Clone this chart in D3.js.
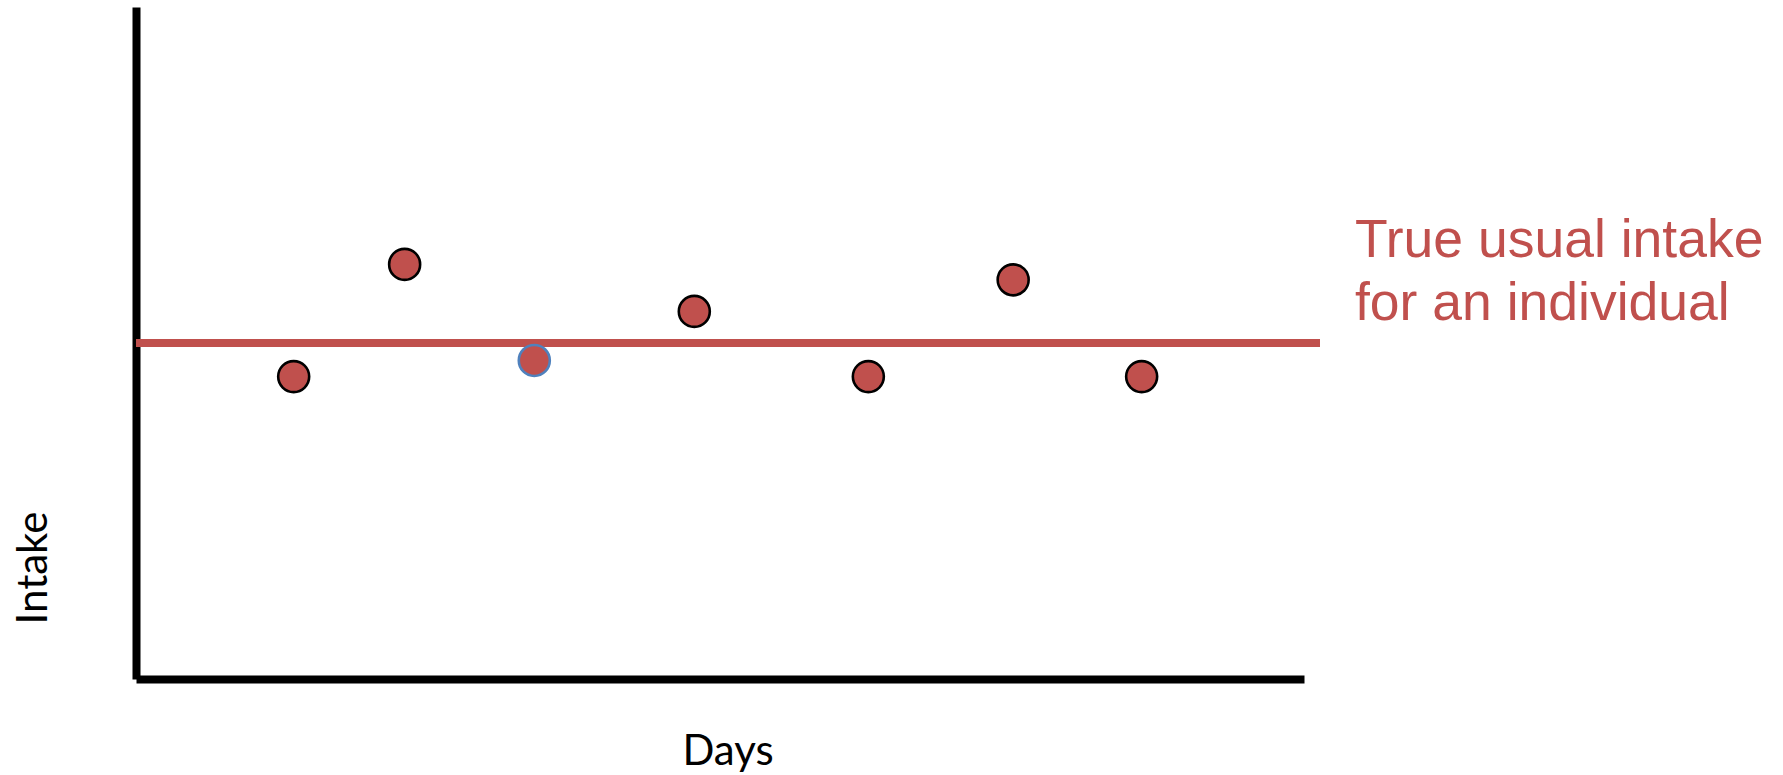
<!DOCTYPE html>
<html>
<head>
<meta charset="utf-8">
<script src="https://cdn.jsdelivr.net/npm/d3@7"></script>
<style>
  html, body { margin: 0; padding: 0; background: #ffffff; }
  svg { display: block; }
</style>
</head>
<body>
<svg id="chart" width="1783" height="775"></svg>
<script>
// ---- data ----
const days = [1.35, 2.30, 3.41, 4.78, 6.27, 7.51, 8.61];
const intake = [45.0, 61.7, 47.4, 54.7, 45.0, 59.4, 45.0];
const outlineKinds = ["black", "black", "blue", "black", "black", "black", "black"];
const trueUsualIntake = 50;
const labelLines = ["True usual intake", "for an individual"];
const xTitle = "Days";
const yTitle = "Intake";

// ---- layout ----
const W = 1783, H = 775;
const svg = d3.select("#chart");
const x = d3.scaleLinear().domain([0, 10]).range([136, 1304]);
const y = d3.scaleLinear().domain([0, 100]).range([679, 7]);

const RED = "#C0504D";
const BLUE = "#4F81BD";

// axes (no ticks, thick domain lines)
const gx = svg.append("g").attr("transform", `translate(0,${y(0)})`)
  .call(d3.axisBottom(x).ticks(0).tickSizeOuter(0));
gx.select(".domain").attr("stroke", "#000").attr("stroke-width", 8);
gx.selectAll(".tick").remove();

const gy = svg.append("g").attr("transform", `translate(${x(0)},0)`)
  .call(d3.axisLeft(y).ticks(0).tickSizeOuter(0));
gy.select(".domain").attr("stroke", "#000").attr("stroke-width", 8);
gy.selectAll(".tick").remove();

// true usual intake line
svg.append("line")
  .attr("x1", x.range()[0])
  .attr("x2", x.range()[1] + 16)
  .attr("y1", y(trueUsualIntake))
  .attr("y2", y(trueUsualIntake))
  .attr("stroke", RED)
  .attr("stroke-width", 8);

// points
const pts = days.map((d, i) => ({ day: d, v: intake[i], kind: outlineKinds[i] }));
svg.append("g").selectAll("circle").data(pts).join("circle")
  .attr("cx", d => x(d.day))
  .attr("cy", d => y(d.v))
  .attr("r", 15.5)
  .attr("fill", RED)
  .attr("stroke", d => d.kind === "blue" ? BLUE : "#000")
  .attr("stroke-width", 2.6);

// label on right
const lbl = svg.append("text")
  .attr("fill", RED)
  .attr("font-family", "'Liberation Sans', Arial, sans-serif")
  .attr("font-size", 53.5);
lbl.selectAll("tspan").data(labelLines).join("tspan")
  .attr("x", 1355)
  .attr("y", (d, i) => 257 + i * 62.7)
  .text(d => d);

// axis titles
svg.append("text")
  .attr("x", 728).attr("y", 765)
  .attr("text-anchor", "middle")
  .attr("font-family", "Lato, 'Open Sans', sans-serif")
  .attr("font-size", 42)
  .attr("fill", "#000")
  .text(xTitle);

svg.append("text")
  .attr("transform", "translate(47,568) rotate(-90)")
  .attr("text-anchor", "middle")
  .attr("font-family", "Lato, 'Open Sans', sans-serif")
  .attr("font-size", 42)
  .attr("fill", "#000")
  .text(yTitle);
</script>
</body>
</html>
